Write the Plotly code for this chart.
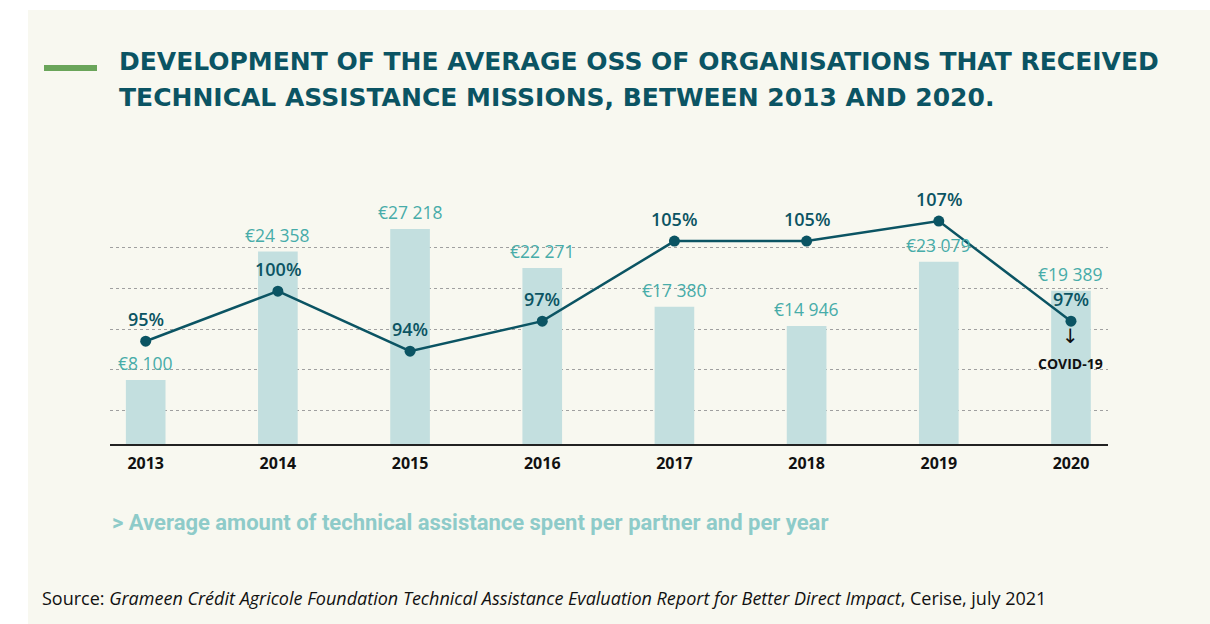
import plotly.graph_objects as go

years = ["2013", "2014", "2015", "2016", "2017", "2018", "2019", "2020"]
amounts = [8100, 24358, 27218, 22271, 17380, 14946, 23079, 19389]
amount_labels = ["€8 100", "€24 358", "€27 218", "€22 271", "€17 380", "€14 946", "€23 079", "€19 389"]
oss = [95, 100, 94, 97, 105, 105, 107, 97]
oss_labels = ["95%", "100%", "94%", "97%", "105%", "105%", "107%", "97%"]

W, H = 1210, 624
DARK = "#0b5463"
BAR = "#c3dfdf"
TEAL = "#47aca9"
CREAM = "#f8f8f0"

def px(x):
    return x / W

def py(y):
    return 1 - y / H

fig = go.Figure()

fig.add_trace(go.Bar(
    x=years, y=amounts, marker=dict(color=BAR, line=dict(width=0)),
    width=0.30, yaxis="y", hoverinfo="skip", showlegend=False,
))
fig.add_trace(go.Scatter(
    x=years, y=oss, mode="lines+markers", yaxis="y2",
    line=dict(color=DARK, width=2.5), marker=dict(color=DARK, size=11),
    hoverinfo="skip", showlegend=False,
))

annotations = []
for i, (v, lab) in enumerate(zip(amounts, amount_labels)):
    annotations.append(dict(x=i, y=v, xref="x", yref="y", text=lab, showarrow=False,
                            yanchor="bottom", yshift=3,
                            font=dict(family="Open Sans", size=17.5, color=TEAL)))
for i, (v, lab) in enumerate(zip(oss, oss_labels)):
    annotations.append(dict(x=i, y=v, xref="x", yref="y2", text=lab, showarrow=False,
                            yanchor="bottom", yshift=8,
                            font=dict(family="Open Sans", size=18, color=DARK, weight=600)))

last = len(years) - 1
annotations.append(dict(x=last, y=amounts[last], xref="x", yref="y", text="↓", showarrow=False,
                        yanchor="top", yshift=-31,
                        font=dict(family="DejaVu Sans", size=20, color="#111")))
annotations.append(dict(x=last, y=amounts[last], xref="x", yref="y", text="COVID-19", showarrow=False,
                        yanchor="top", yshift=-61,
                        font=dict(family="Open Sans", size=14, color="#111", weight=700)))

annotations.append(dict(x=px(117), y=py(62), xref="paper", yref="paper", xanchor="left", yanchor="middle",
                        text="DEVELOPMENT OF THE AVERAGE OSS OF ORGANISATIONS THAT RECEIVED", showarrow=False,
                        font=dict(family="DejaVu Sans", size=25, color=DARK, weight=700)))
annotations.append(dict(x=px(117), y=py(97), xref="paper", yref="paper", xanchor="left", yanchor="middle",
                        text="TECHNICAL ASSISTANCE MISSIONS, BETWEEN 2013 AND 2020.", showarrow=False,
                        font=dict(family="DejaVu Sans", size=25, color=DARK, weight=700)))
annotations.append(dict(x=px(110), y=py(522), xref="paper", yref="paper", xanchor="left", yanchor="middle",
                        text="> Average amount of technical assistance spent per partner and per year", showarrow=False,
                        font=dict(family="Roboto", size=22, color="#8ecbc9", weight=700)))
annotations.append(dict(x=px(40), y=py(598), xref="paper", yref="paper", xanchor="left", yanchor="middle",
                        text="Source: <i>Grameen Crédit Agricole Foundation Technical Assistance Evaluation Report for Better Direct Impact</i>, Cerise, july 2021",
                        showarrow=False,
                        font=dict(family="Open Sans", size=18, color="#111")))

shapes = [
    dict(type="rect", xref="paper", yref="paper", x0=px(28), x1=1, y0=0, y1=py(10),
         fillcolor=CREAM, line=dict(width=0), layer="below"),
    dict(type="line", xref="paper", yref="paper", x0=px(44), x1=px(97), y0=py(68), y1=py(68),
         line=dict(color="#6aa55a", width=6)),
]

top_px = 150
base_px = 444
bar_scale = 7.9 / 1000
line_scale = 10.01
bar_top = (base_px - top_px) / bar_scale
y2_lo = 100.43 - (base_px - 286.86) / line_scale
y2_hi = 100.43 + (286.86 - top_px) / line_scale
grid_vals = [(base_px - p) / bar_scale for p in (410, 369.3, 329, 288.3, 247.7)]

fig.update_layout(
    width=W, height=H,
    margin=dict(l=0, r=0, t=0, b=0),
    paper_bgcolor="white", plot_bgcolor="rgba(0,0,0,0)",
    xaxis=dict(domain=[px(110), px(1108)], type="category", range=[-0.27, 7.28],
               showline=True, linecolor="#222", linewidth=1.5, showgrid=False, ticks="",
               ticklabelstandoff=4,
               tickfont=dict(family="Open Sans", size=16, color="#111", weight=700), fixedrange=True),
    yaxis=dict(domain=[py(base_px), py(top_px)], range=[0, bar_top], showticklabels=False,
               showgrid=True, gridcolor="#a0a0a0", griddash="dot", gridwidth=1,
               tickmode="array", tickvals=grid_vals,
               zeroline=False, showline=False, ticks=""),
    yaxis2=dict(domain=[py(base_px), py(top_px)], range=[y2_lo, y2_hi], overlaying="y", visible=False),
    annotations=annotations, shapes=shapes,
)

fig.write_html("out.html", config={"displayModeBar": False},
               post_script="document.body.style.margin='0';document.body.style.padding='0';")
